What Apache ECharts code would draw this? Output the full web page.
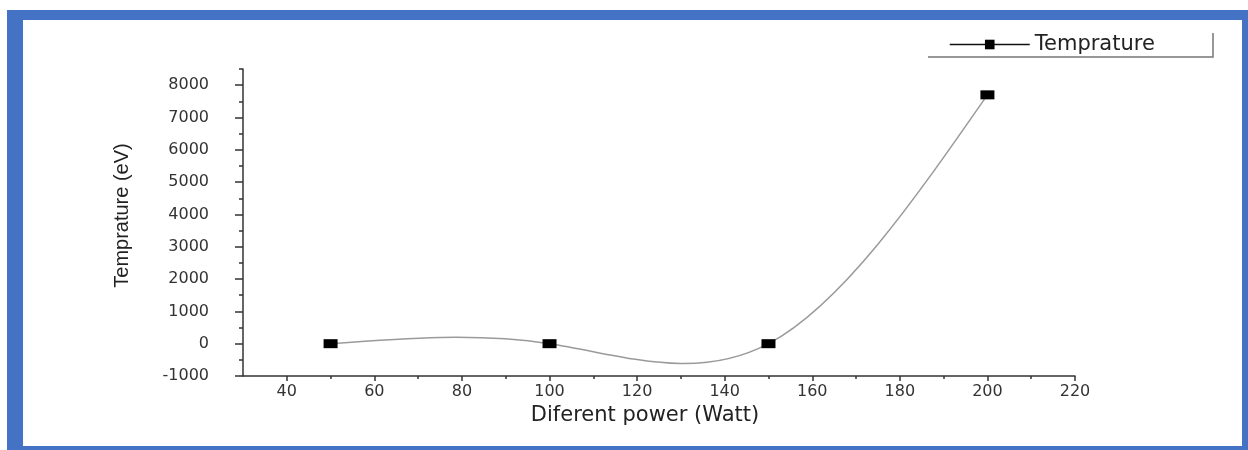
<!DOCTYPE html>
<html>
<head>
<meta charset="utf-8">
<script src="https://cdn.jsdelivr.net/npm/echarts@6/dist/echarts.min.js"></script>
<style>
html,body{margin:0;padding:0;background:#fff;}
#chart{width:1248px;height:450px;}
</style>
</head>
<body>
<div id="chart"></div>
<script>
// Data
const powers = [50, 100, 150, 200];
const temps = [0, 0, 0, 7700];
const xTickValues = [40, 60, 80, 100, 120, 140, 160, 180, 200, 220];
const xMinorValues = [50, 70, 90, 110, 130, 150, 170, 190, 210];
const yTickValues = [-1000, 0, 1000, 2000, 3000, 4000, 5000, 6000, 7000, 8000];
const yMinorValues = [-500, 500, 1500, 2500, 3500, 4500, 5500, 6500, 7500, 8500];
const seriesName = 'Temprature';
const xName = 'Diferent power (Watt)';
const yName = 'Temprature (eV)';

// Natural cubic spline second derivatives (the original connects points with a spline)
function splineSecondDerivs(xs, ys) {
  const n = xs.length;
  const M = new Array(n).fill(0);
  if (n < 3) return M;
  const a = [], b = [], c = [], d = [];
  for (let i = 1; i < n - 1; i++) {
    const h0 = xs[i] - xs[i - 1], h1 = xs[i + 1] - xs[i];
    a.push(h0); b.push(2 * (h0 + h1)); c.push(h1);
    d.push(6 * ((ys[i + 1] - ys[i]) / h1 - (ys[i] - ys[i - 1]) / h0));
  }
  const m = b.length;
  for (let i = 1; i < m; i++) {
    const w = a[i] / b[i - 1];
    b[i] -= w * c[i - 1];
    d[i] -= w * d[i - 1];
  }
  const sol = new Array(m);
  sol[m - 1] = d[m - 1] / b[m - 1];
  for (let i = m - 2; i >= 0; i--) sol[i] = (d[i] - c[i] * sol[i + 1]) / b[i];
  for (let i = 0; i < m; i++) M[i + 1] = sol[i];
  return M;
}
const M2 = splineSecondDerivs(powers, temps);
const segments = powers.slice(0, -1).map((p, i) => [i]);

const chart = echarts.init(document.getElementById('chart'), null, {renderer: 'canvas'});
const blue = '#4472C4';
const axisColor = '#333';
const font = 'DejaVu Sans';
const numFmt = v => String(v);

const option = {
  backgroundColor: '#fff',
  animation: false,
  grid: {left: 243, right: 173, top: 69, bottom: 74},
  legend: {
    data: [seriesName],
    left: 944, top: 29,
    itemWidth: 80, itemHeight: 12,
    itemGap: 6,
    textStyle: {fontFamily: font, fontSize: 21, color: '#222'},
    lineStyle: {color: '#111', width: 1.5, opacity: 1},
    itemStyle: {color: '#000'}
  },
  xAxis: [{
    type: 'value', min: 30, max: 220,
    name: xName, nameLocation: 'middle', nameGap: 26,
    nameTextStyle: {fontFamily: font, fontSize: 21, color: '#222', verticalAlign: 'top', padding: [0, 28, 0, 0]},
    axisLine: {show: true, onZero: false, lineStyle: {color: axisColor, width: 1.5}},
    axisTick: {show: true, inside: false, length: 5, customValues: xTickValues, lineStyle: {color: axisColor, width: 1.5}},
    axisLabel: {customValues: xTickValues, margin: 8, fontFamily: font, fontSize: 16, color: '#333', formatter: numFmt},
    splitLine: {show: false}
  }, {
    type: 'value', min: 30, max: 220, position: 'bottom', offset: 0,
    axisLine: {show: false, onZero: false},
    axisTick: {show: true, inside: false, length: 3, customValues: xMinorValues, lineStyle: {color: axisColor, width: 1.5}},
    axisLabel: {show: false},
    splitLine: {show: false}
  }],
  yAxis: [{
    type: 'value', min: -1000, max: 8500,
    name: yName, nameLocation: 'middle', nameGap: 111, nameRotate: 90,
    nameTextStyle: {fontFamily: 'Liberation Sans', fontSize: 20, color: '#222', padding: [0, 0, 0, 14]},
    axisLine: {show: true, onZero: false, lineStyle: {color: axisColor, width: 1.5}},
    axisTick: {show: true, inside: false, length: 8, customValues: yTickValues, lineStyle: {color: axisColor, width: 1.5}},
    axisLabel: {customValues: yTickValues, margin: 34, fontFamily: font, fontSize: 16, color: '#333', formatter: numFmt},
    splitLine: {show: false}
  }, {
    type: 'value', min: -1000, max: 8500, position: 'left', offset: 0,
    axisLine: {show: false, onZero: false},
    axisTick: {show: true, inside: false, length: 4, customValues: yMinorValues, lineStyle: {color: axisColor, width: 1.5}},
    axisLabel: {show: false},
    splitLine: {show: false}
  }],
  series: [{
    name: 'spline',
    type: 'custom',
    xAxisIndex: 0, yAxisIndex: 0,
    data: segments,
    z: 1,
    silent: true,
    renderItem: function (params, api) {
      const i = api.value(0);
      const x0 = powers[i], x1 = powers[i + 1];
      const y0 = temps[i], y1 = temps[i + 1];
      const h = x1 - x0;
      const s0 = (y1 - y0) / h - h * (2 * M2[i] + M2[i + 1]) / 6;
      const s1 = (y1 - y0) / h + h * (M2[i] + 2 * M2[i + 1]) / 6;
      const p0 = api.coord([x0, y0]);
      const p1 = api.coord([x0 + h / 3, y0 + s0 * h / 3]);
      const p2 = api.coord([x1 - h / 3, y1 - s1 * h / 3]);
      const p3 = api.coord([x1, y1]);
      return {
        type: 'bezierCurve',
        shape: {x1: p0[0], y1: p0[1], cpx1: p1[0], cpy1: p1[1], cpx2: p2[0], cpy2: p2[1], x2: p3[0], y2: p3[1]},
        style: {stroke: '#9a9a9a', lineWidth: 1.5, fill: null}
      };
    }
  }, {
    name: seriesName,
    type: 'line',
    xAxisIndex: 0, yAxisIndex: 0,
    data: powers.map((p, i) => [p, temps[i]]),
    z: 3,
    symbol: 'rect',
    symbolSize: [14, 9],
    itemStyle: {color: '#000'},
    lineStyle: {color: '#111', width: 1.5, opacity: 0}
  }],
  graphic: [
    {type: 'rect', shape: {x: 7, y: 10, width: 1241, height: 10}, style: {fill: blue}, silent: true},
    {type: 'rect', shape: {x: 7, y: 10, width: 16, height: 440}, style: {fill: blue}, silent: true},
    {type: 'rect', shape: {x: 1242, y: 10, width: 6, height: 440}, style: {fill: blue}, silent: true},
    {type: 'rect', shape: {x: 7, y: 446, width: 1241, height: 4}, style: {fill: blue}, silent: true},
    {type: 'polyline', shape: {points: [[928, 57], [1213, 57], [1213, 33]]}, style: {stroke: '#777', lineWidth: 1.5, fill: null}, silent: true}
  ]
};
chart.setOption(option);
</script>
</body>
</html>
